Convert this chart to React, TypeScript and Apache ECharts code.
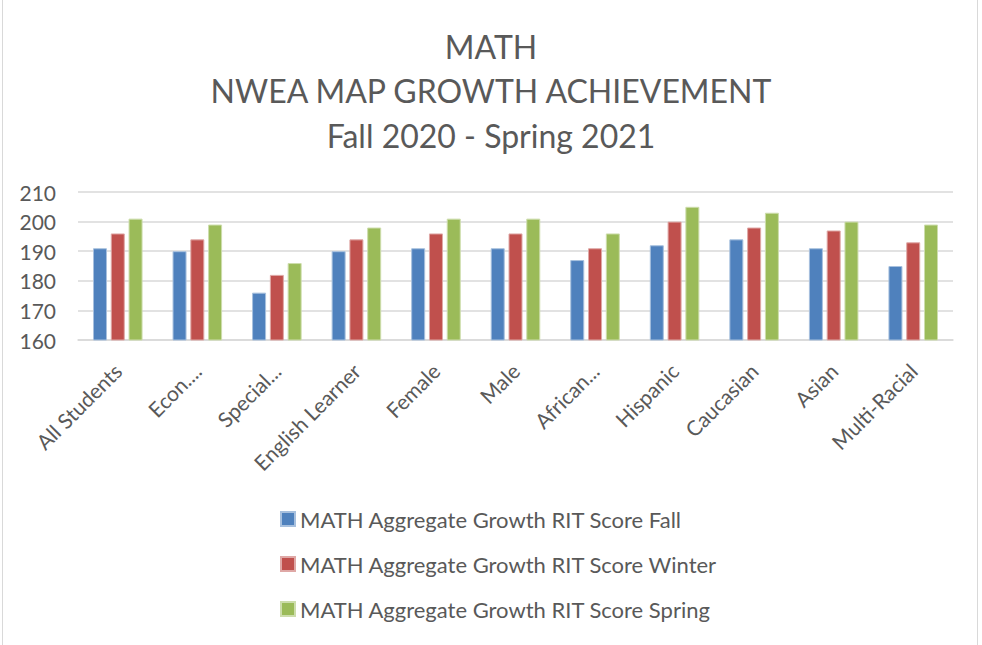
import React, { useEffect, useRef } from "react";
import * as echarts from "echarts";

const categories = ["All Students", "Econ....", "Special...", "English Learner", "Female", "Male", "African...", "Hispanic", "Caucasian", "Asian", "Multi-Racial"];
const fallScores = [191, 190, 176, 190, 191, 191, 187, 192, 194, 191, 185];
const winterScores = [196, 194, 182, 194, 196, 196, 191, 200, 198, 197, 193];
const springScores = [201, 199, 186, 198, 201, 201, 196, 205, 203, 200, 199];
const seriesNames = [
  "MATH Aggregate Growth RIT Score Fall",
  "MATH Aggregate Growth RIT Score Winter",
  "MATH Aggregate Growth RIT Score Spring",
];
const titleLines = ["MATH", "NWEA MAP GROWTH ACHIEVEMENT", "Fall 2020 - Spring 2021"];
const colors = ["#4F81BD", "#C0504D", "#9BBB59"];
const borders = ["#A7C0DE", "#DFA8A6", "#CDDDAC"];

const FONT = "Lato, 'Open Sans', sans-serif";

export default function App() {
  const ref = useRef<HTMLDivElement>(null);
  useEffect(() => {
    if (!ref.current) return;
    const chart = echarts.init(ref.current, null, { renderer: "svg" });
    const data = [fallScores, winterScores, springScores];
    chart.setOption({
      animation: false,
      backgroundColor: "#ffffff",
      textStyle: { fontFamily: FONT },
      title: {
        text: titleLines.join("\n"),
        left: "center",
        top: 24,
        padding: 0,
        textStyle: { fontFamily: FONT, fontSize: 32, lineHeight: 44.5, color: "#595959", fontWeight: "normal" },
      },
      graphic: [
        {
          type: "rect",
          shape: { x: 2.5, y: -2, width: 975, height: 660 },
          style: { fill: "none", stroke: "#d9d9d9", lineWidth: 1 },
          silent: true,
        },
      ],
      grid: { left: 78, right: 29, top: 192, bottom: 305, containLabel: false },
      legend: {
        orient: "vertical",
        left: 280,
        top: 507,
        padding: 0,
        itemWidth: 14,
        itemHeight: 14,
        itemGap: 21,
        icon: "rect",
        textStyle: { fontFamily: FONT, fontSize: 22, lineHeight: 24, color: "#595959" },
        data: seriesNames,
      },
      xAxis: {
        type: "category",
        data: categories,
        axisLine: { lineStyle: { color: "#d9d9d9", width: 1.5 } },
        axisTick: { show: false },
        axisLabel: { interval: 0, rotate: 45, fontSize: 21, color: "#595959", fontFamily: FONT, margin: 27 },
      },
      yAxis: {
        type: "value",
        min: 160,
        max: 210,
        interval: 10,
        axisLine: { show: false },
        axisTick: { show: false },
        splitLine: { lineStyle: { color: "#d9d9d9", width: 1.5 } },
        axisLabel: { fontSize: 21, color: "#595959", fontFamily: FONT, margin: 22 },
      },
      series: seriesNames.map((name, i) => ({
        name,
        type: "bar",
        data: data[i],
        barWidth: 14,
        barGap: "27%",
        itemStyle: { color: colors[i], borderColor: borders[i], borderWidth: 1 },
      })),
    });
    return () => chart.dispose();
  }, []);
  return (
    <div
      ref={ref}
      style={{ position: "absolute", left: 0, top: 0, width: 982, height: 645 }}
    />
  );
}
